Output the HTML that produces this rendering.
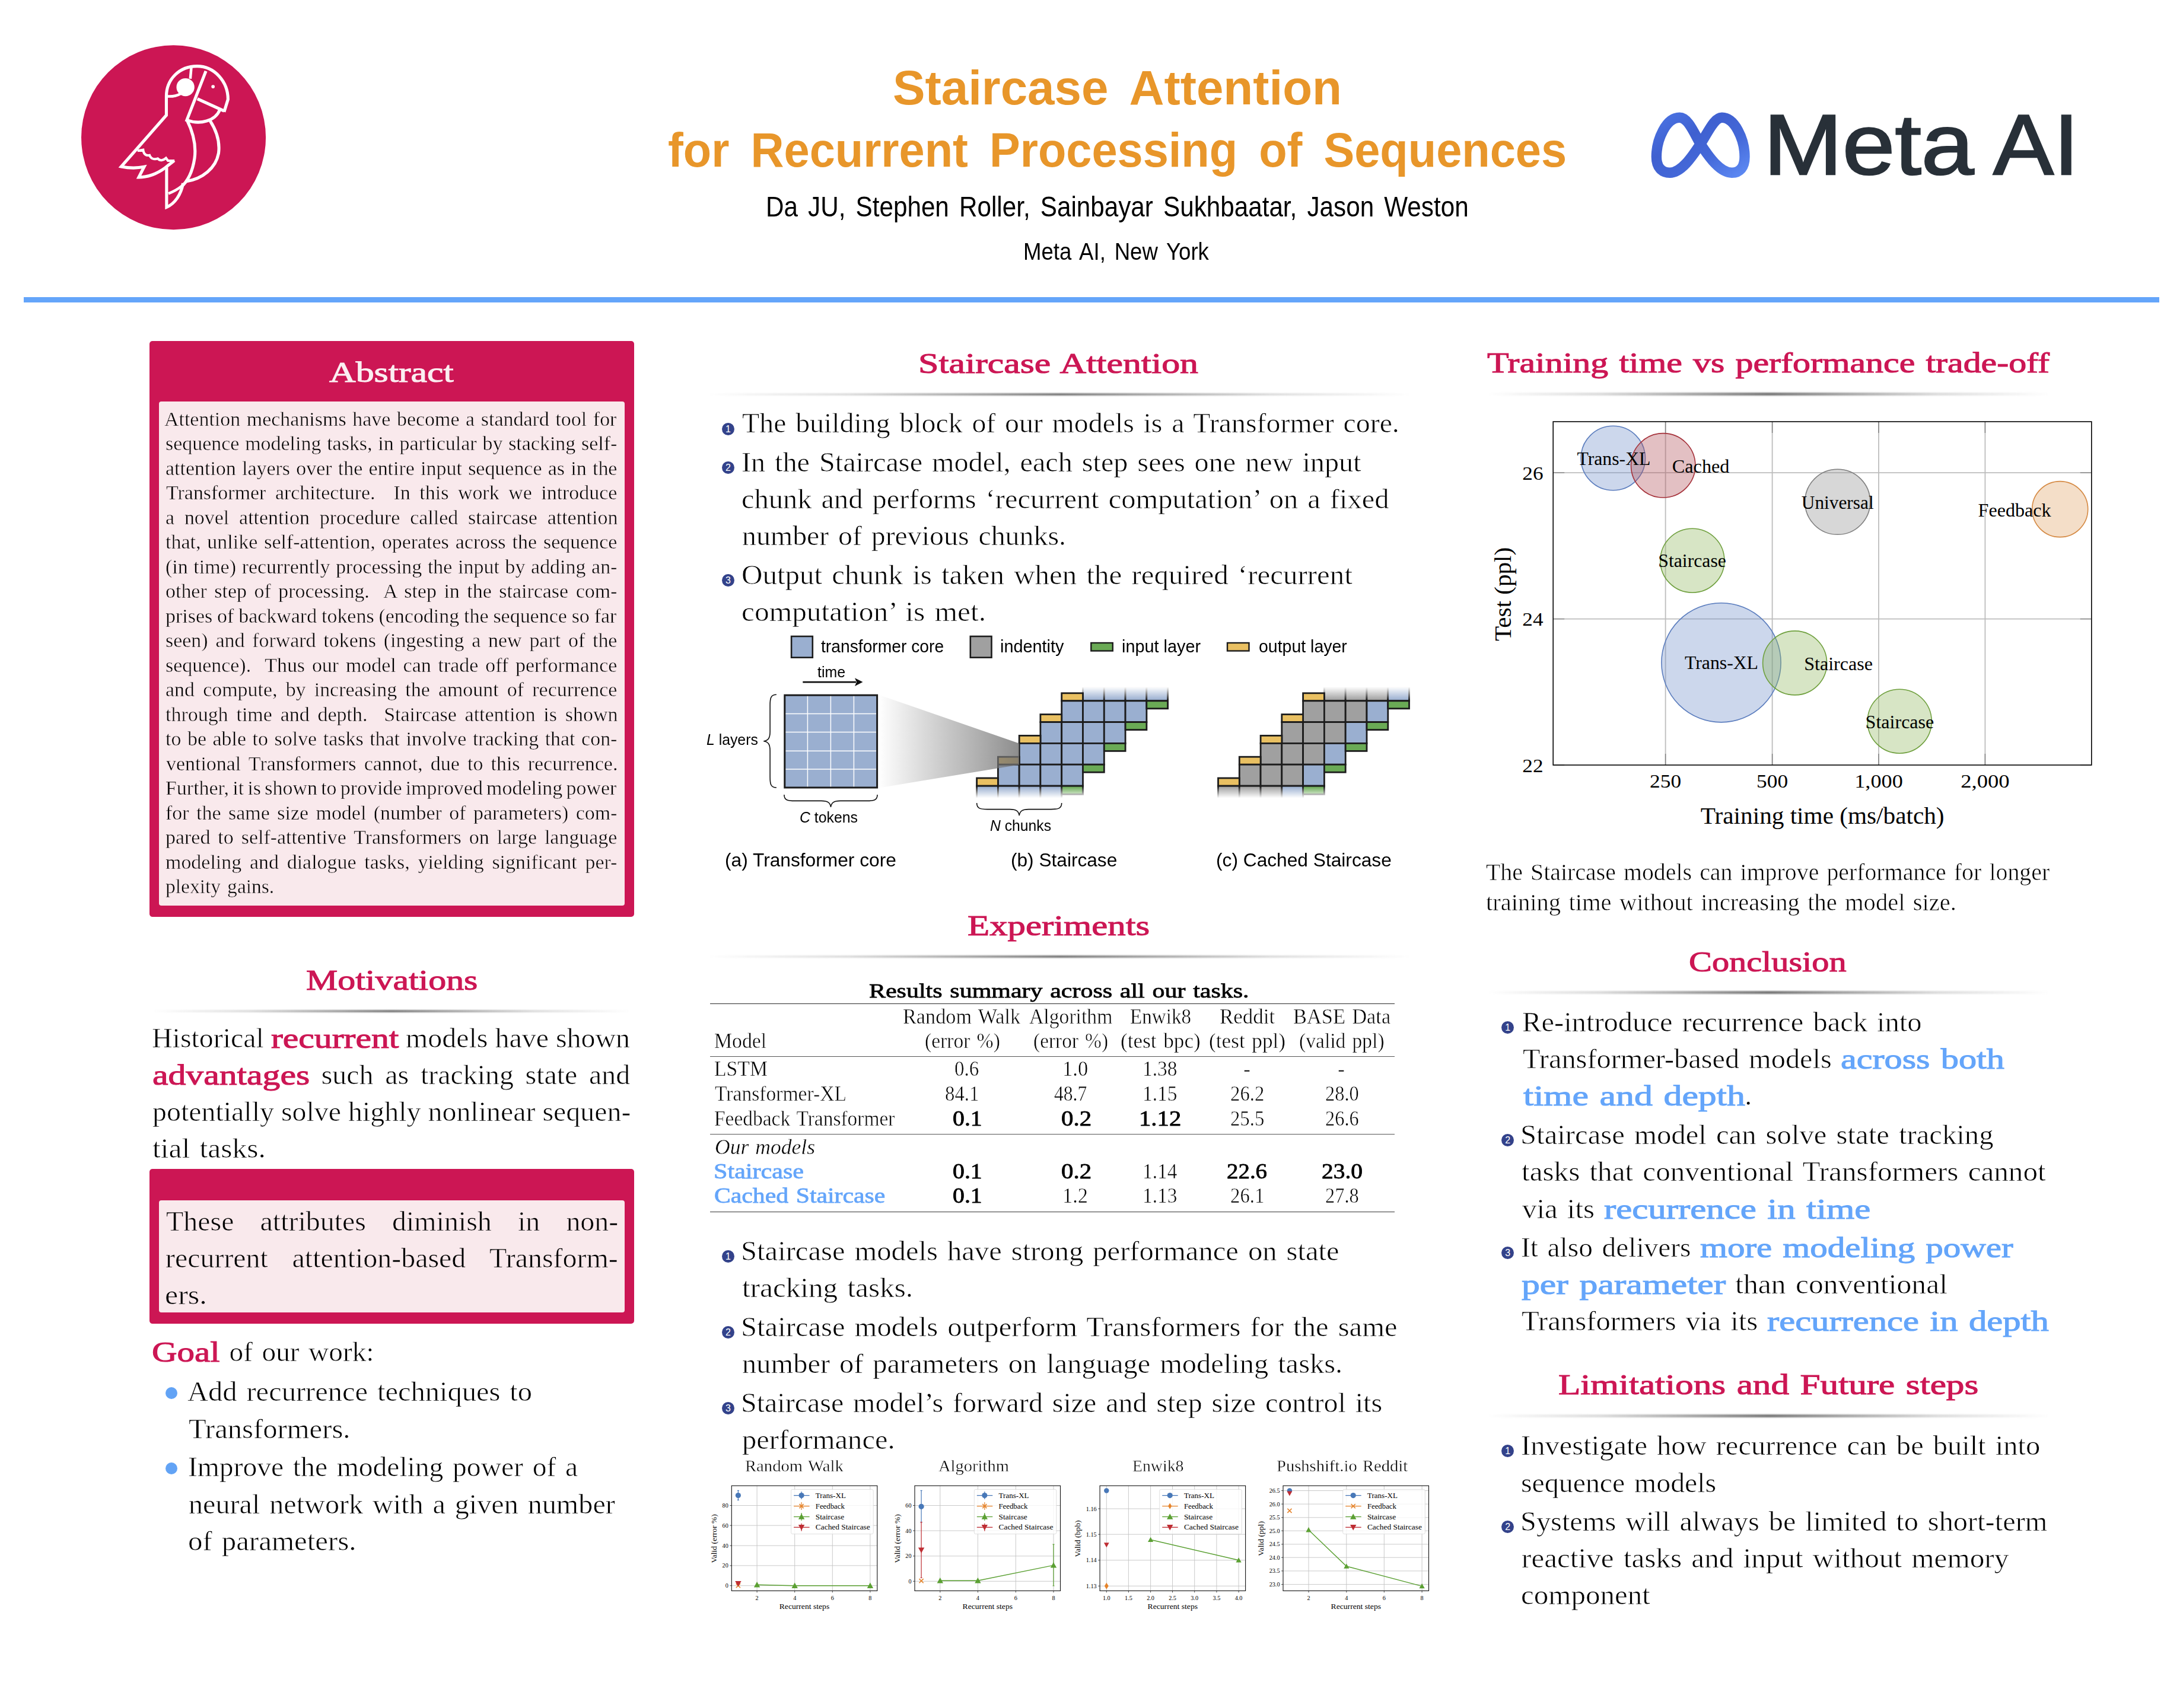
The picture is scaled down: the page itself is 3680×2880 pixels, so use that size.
<!DOCTYPE html>
<html lang="en"><head><meta charset="utf-8"><title>Staircase Attention for Recurrent Processing of Sequences</title>
<style>
html,body{margin:0;padding:0;background:#fff}
body{width:3680px;height:2880px;position:relative;overflow:hidden;font-family:"Liberation Serif",serif;color:#000}
.t{position:absolute;white-space:pre;line-height:1;transform-origin:0 0;margin:0;padding:0}
.sr{font-family:"Liberation Serif",serif;font-weight:400;-webkit-text-stroke:.015em #fff}
.sb{font-family:"Liberation Serif",serif;font-weight:400;-webkit-text-stroke:.022em currentColor}
.si{font-family:"Liberation Serif",serif;font-style:italic;-webkit-text-stroke:.012em #fff}
.pk{-webkit-text-stroke-color:#F9E9EC}
.ss{font-family:"Liberation Sans",sans-serif;font-weight:400}
.ssb{font-family:"Liberation Sans",sans-serif;font-weight:700}
.cs{font-family:"Liberation Sans",sans-serif;font-weight:400}
.cr{color:#CC1654}
.lb{color:#64A5FA}
.or{color:#E8962A}
.wh{color:#FBEEF1}
.meta{color:#283038;-webkit-text-stroke:2.6px #283038}
b{font-weight:400}
.abs{position:absolute}
.box{position:absolute;background:#CC1654;border-radius:5px}
.inner{position:absolute;background:#F9E9EC;border-radius:4px}
.hr{position:absolute;height:4.5px;filter:blur(.9px);background:linear-gradient(to right,rgba(100,100,100,0) 0%,rgba(100,100,100,.22) 20%,rgba(85,85,85,.8) 50%,rgba(100,100,100,.22) 80%,rgba(100,100,100,0) 100%)}
.num{position:absolute;width:21px;height:21px;border-radius:50%;background:#33428A;color:#fff;font-family:"Liberation Sans",sans-serif;font-size:16px;line-height:21px;text-align:center}
.dot{position:absolute;width:20px;height:20px;border-radius:50%;background:#62A3F5}
.rule{position:absolute;background:#222;height:1.6px}
svg{position:absolute;overflow:visible}
svg text{font-family:"Liberation Serif",serif}
</style></head>
<body>
<div class="abs" style="left:40px;top:500.8px;width:3600px;height:9.2px;background:#64A5FA"></div>
<div class="box" style="left:252px;top:575px;width:817px;height:970.5px"></div>
<div class="inner" style="left:267.5px;top:677px;width:785.5px;height:850px"></div>
<div class="box" style="left:252px;top:1970.5px;width:817px;height:261.3px"></div>
<div class="inner" style="left:267.5px;top:2024px;width:785.5px;height:189.1px"></div>
<div class="hr" style="left:258.0px;top:1702.5px;width:804.0px"></div>
<div class="hr" style="left:1194.6px;top:662.5px;width:1183.4px"></div>
<div class="hr" style="left:1194.6px;top:1610.6px;width:1183.4px"></div>
<div class="hr" style="left:2507.5px;top:662.0px;width:947.5px"></div>
<div class="hr" style="left:2507.5px;top:1671.1px;width:947.5px"></div>
<div class="hr" style="left:2507.5px;top:2385.4px;width:947.5px"></div>
<div class="num" style="left:1216.9px;top:712.5px">1</div>
<div class="num" style="left:1216.9px;top:778.2px">2</div>
<div class="num" style="left:1216.9px;top:968.4px">3</div>
<div class="num" style="left:1216.9px;top:2107.9px">1</div>
<div class="num" style="left:1216.9px;top:2236.1px">2</div>
<div class="num" style="left:1216.9px;top:2364.2px">3</div>
<div class="num" style="left:2531.3px;top:1721.9px">1</div>
<div class="num" style="left:2531.3px;top:1912.1px">2</div>
<div class="num" style="left:2531.3px;top:2102.2px">3</div>
<div class="num" style="left:2531.3px;top:2436.4px">1</div>
<div class="num" style="left:2531.3px;top:2564.2px">2</div>
<div class="dot" style="left:279.3px;top:2338.5px"></div>
<div class="dot" style="left:279.3px;top:2466.2px"></div>
<div class="rule" style="left:1197.1px;top:1691.8px;width:1153.7px;height:1.3px;background:#2a2a2a"></div>
<div class="rule" style="left:1197.1px;top:1781.4px;width:1153.7px;height:1.0px;background:#555"></div>
<div class="rule" style="left:1197.1px;top:1912.2px;width:1153.7px;height:1.0px;background:#555"></div>
<div class="rule" style="left:1197.1px;top:2043.1px;width:1153.7px;height:1.2px;background:#333"></div>
<svg style="left:120px;top:60px" width="350" height="350" viewBox="0 0 1708 1708"><circle cx="842" cy="838" r="759" fill="#CC1654"/><g fill="none" stroke="#fff" stroke-width="25" stroke-linejoin="miter" stroke-linecap="butt"><path d="M1258 628 L1290 525 C1290 380 1180 252 1035 252 C890 252 783 360 783 500 L783 655 L412 1078 C480 1092 540 1092 600 1080 L556 1166 C650 1166 740 1120 800 1066 L848 1028"/><path d="M545 948 L592 940 C596 975 615 990 645 985 C655 1012 680 1022 712 1012 C730 1032 756 1030 780 1008 L796 1030 L850 1030" stroke-width="20"/><path d="M785 1085 L785 1412 C850 1385 905 1310 920 1215"/><path d="M800 1300 C840 1285 880 1262 908 1240" stroke-width="22"/><path d="M952 693 C1000 790 1030 900 1015 1010 C1000 1110 960 1200 900 1250"/><path d="M1142 700 C1200 790 1225 880 1212 970 C1190 1090 1080 1180 945 1200"/><path d="M1108 292 L951 696 C1060 735 1185 705 1224 608"/><path d="M1038 520 L1258 620"/><path d="M988 264 L980 355" stroke-width="22"/><path d="M790 500 C830 503 870 495 900 478" stroke-width="22"/></g><circle cx="940" cy="425" r="74" fill="#fff"/><circle cx="1167" cy="420" r="14" fill="#fff"/></svg>
<svg style="left:2760px;top:160px" width="760" height="170" viewBox="0 0 2183 488.3"><defs><linearGradient id="mg" x1="0" y1="0" x2="1" y2="1"><stop offset="0" stop-color="#4A72E2"/><stop offset="0.35" stop-color="#3F60D0"/><stop offset="0.65" stop-color="#4468D8"/><stop offset="1" stop-color="#5C88F2"/></linearGradient></defs><path fill="none" stroke="url(#mg)" stroke-width="50" stroke-linejoin="round" d="M306 238 C272 178 245 110 205 110 C140 110 93 215 93 300 C93 350 118 377 158 377 C212 377 262 305 306 238 C345 178 372 110 410 110 C472 110 520 215 520 300 C520 350 497 377 458 377 C402 377 350 305 306 238 Z"/></svg>
<svg style="left:0;top:0" width="3680" height="2880" viewBox="0 0 3680 2880">
<defs><linearGradient id="fadeT" x1="0" y1="0" x2="0" y2="1"><stop offset="0" stop-color="#fff" stop-opacity="1"/><stop offset="0.15" stop-color="#fff" stop-opacity="1"/><stop offset="1" stop-color="#fff" stop-opacity="0"/></linearGradient><linearGradient id="fadeB" x1="0" y1="0" x2="0" y2="1"><stop offset="0" stop-color="#fff" stop-opacity="0"/><stop offset="0.8" stop-color="#fff" stop-opacity="1"/><stop offset="1" stop-color="#fff" stop-opacity="1"/></linearGradient><linearGradient id="beam" x1="0" y1="0" x2="1" y2="0"><stop offset="0" stop-color="#808080" stop-opacity="0"/><stop offset="0.5" stop-color="#808080" stop-opacity="0.45"/><stop offset="1" stop-color="#707070" stop-opacity="0.8"/></linearGradient></defs><rect x="1334.1" y="1073.0" width="35.7" height="35.7" fill="#9AAFD0" stroke="#1C1C1C" stroke-width="2.6" /><rect x="1635.8" y="1073.0" width="35.7" height="35.7" fill="#A0A0A0" stroke="#1C1C1C" stroke-width="2.6" /><rect x="1839.3" y="1084.0" width="36.5" height="13.5" fill="#6AAA55" stroke="#1C1C1C" stroke-width="2.4" /><rect x="2069.0" y="1084.0" width="36.5" height="13.5" fill="#E9C062" stroke="#1C1C1C" stroke-width="2.4" /><path d="M1353.3 1150.1 L1443 1150.1" stroke="#111" stroke-width="2.6" fill="none"/><path d="M1454.5 1150.1 L1441 1143.3 L1444 1150.1 L1441 1156.9 Z" fill="#111"/><rect x="1322.8" y="1172.2" width="155.8" height="155.8" fill="#9AAFD0"/><path d="M1361.4 1172 L1361.4 1328" stroke="#fff" stroke-width="1.5"/><path d="M1400.4 1172 L1400.4 1328" stroke="#fff" stroke-width="1.5"/><path d="M1439.4 1172 L1439.4 1328" stroke="#fff" stroke-width="1.5"/><path d="M1322 1203.4 L1479 1203.4" stroke="#fff" stroke-width="1.5"/><path d="M1322 1234.6 L1479 1234.6" stroke="#fff" stroke-width="1.5"/><path d="M1322 1266.2 L1479 1266.2" stroke="#fff" stroke-width="1.5"/><path d="M1322 1297.0 L1479 1297.0" stroke="#fff" stroke-width="1.5"/><rect x="1322.8" y="1172.2" width="155.8" height="155.8" fill="none" stroke="#1C1C1C" stroke-width="3"/><path fill="none" stroke="#111" stroke-width="1.6" d="M1308.9 1171.3 C1299.2 1171.3 1298.1 1177.3 1298.1 1189.3 L1298.1 1233.7 C1298.1 1244.7 1294.9 1248.7 1287.3 1249.7 C1294.9 1250.7 1298.1 1254.7 1298.1 1265.7 L1298.1 1310.0 C1298.1 1322.0 1299.2 1328.0 1308.9 1328.0"/><path fill="none" stroke="#111" stroke-width="1.6" d="M1321.9 1339.9 C1321.9 1349.4 1327.9 1350.4 1339.9 1350.4 L1384.5 1350.4 C1395.5 1350.4 1399.5 1353.6 1400.5 1360.9 C1401.5 1353.6 1405.5 1350.4 1416.5 1350.4 L1461.0 1350.4 C1473.0 1350.4 1479.0 1349.4 1479.0 1339.9"/><path fill="none" stroke="#111" stroke-width="1.6" d="M1646.6 1354.1 C1646.6 1363.5 1652.6 1364.6 1664.6 1364.6 L1702.2 1364.6 C1713.2 1364.6 1717.2 1367.8 1718.2 1375.1 C1719.2 1367.8 1723.2 1364.6 1734.2 1364.6 L1771.7 1364.6 C1783.7 1364.6 1789.7 1363.5 1789.7 1354.1"/><rect x="1825.5" y="1157.8" width="35.8" height="24.0" fill="#9AAFD0" stroke="#1C1C1C" stroke-width="2.8" /><rect x="1861.3" y="1157.8" width="35.8" height="24.0" fill="#9AAFD0" stroke="#1C1C1C" stroke-width="2.8" /><rect x="1897.1" y="1157.8" width="35.8" height="24.0" fill="#9AAFD0" stroke="#1C1C1C" stroke-width="2.8" /><rect x="1932.8" y="1157.8" width="35.8" height="24.0" fill="#9AAFD0" stroke="#1C1C1C" stroke-width="2.8" /><rect x="1646.6" y="1325.0" width="35.8" height="22.0" fill="#9AAFD0" stroke="#1C1C1C" stroke-width="2.8" /><rect x="1682.4" y="1325.0" width="35.8" height="22.0" fill="#9AAFD0" stroke="#1C1C1C" stroke-width="2.8" /><rect x="1718.2" y="1325.0" width="35.8" height="22.0" fill="#9AAFD0" stroke="#1C1C1C" stroke-width="2.8" /><rect x="1753.9" y="1325.0" width="35.8" height="22.0" fill="#9AAFD0" stroke="#1C1C1C" stroke-width="2.8" /><rect x="1789.7" y="1325.0" width="35.8" height="14.5" fill="#6AAA55" stroke="#1C1C1C" stroke-width="2.8" /><rect x="1822.5" y="1154.3" width="149.1" height="26" fill="url(#fadeT)"/><rect x="1643.6" y="1326.5" width="184.9" height="24" fill="url(#fadeB)"/><rect x="1789.7" y="1168.8" width="35.8" height="13.0" fill="#E9C062" stroke="#1C1C1C" stroke-width="2.8" /><rect x="1789.7" y="1181.8" width="35.8" height="35.8" fill="#9AAFD0" stroke="#1C1C1C" stroke-width="2.8" /><rect x="1825.5" y="1181.8" width="35.8" height="35.8" fill="#9AAFD0" stroke="#1C1C1C" stroke-width="2.8" /><rect x="1861.3" y="1181.8" width="35.8" height="35.8" fill="#9AAFD0" stroke="#1C1C1C" stroke-width="2.8" /><rect x="1897.1" y="1181.8" width="35.8" height="35.8" fill="#9AAFD0" stroke="#1C1C1C" stroke-width="2.8" /><rect x="1932.8" y="1181.8" width="35.8" height="13.0" fill="#6AAA55" stroke="#1C1C1C" stroke-width="2.8" /><rect x="1753.9" y="1204.6" width="35.8" height="13.0" fill="#E9C062" stroke="#1C1C1C" stroke-width="2.8" /><rect x="1753.9" y="1217.6" width="35.8" height="35.8" fill="#9AAFD0" stroke="#1C1C1C" stroke-width="2.8" /><rect x="1789.7" y="1217.6" width="35.8" height="35.8" fill="#9AAFD0" stroke="#1C1C1C" stroke-width="2.8" /><rect x="1825.5" y="1217.6" width="35.8" height="35.8" fill="#9AAFD0" stroke="#1C1C1C" stroke-width="2.8" /><rect x="1861.3" y="1217.6" width="35.8" height="35.8" fill="#9AAFD0" stroke="#1C1C1C" stroke-width="2.8" /><rect x="1897.1" y="1217.6" width="35.8" height="13.0" fill="#6AAA55" stroke="#1C1C1C" stroke-width="2.8" /><rect x="1718.2" y="1240.4" width="35.8" height="13.0" fill="#E9C062" stroke="#1C1C1C" stroke-width="2.8" /><rect x="1718.2" y="1253.4" width="35.8" height="35.8" fill="#9AAFD0" stroke="#1C1C1C" stroke-width="2.8" /><rect x="1753.9" y="1253.4" width="35.8" height="35.8" fill="#9AAFD0" stroke="#1C1C1C" stroke-width="2.8" /><rect x="1789.7" y="1253.4" width="35.8" height="35.8" fill="#9AAFD0" stroke="#1C1C1C" stroke-width="2.8" /><rect x="1825.5" y="1253.4" width="35.8" height="35.8" fill="#9AAFD0" stroke="#1C1C1C" stroke-width="2.8" /><rect x="1861.3" y="1253.4" width="35.8" height="13.0" fill="#6AAA55" stroke="#1C1C1C" stroke-width="2.8" /><rect x="1682.4" y="1276.2" width="35.8" height="13.0" fill="#E9C062" stroke="#1C1C1C" stroke-width="2.8" /><rect x="1682.4" y="1289.2" width="35.8" height="35.8" fill="#9AAFD0" stroke="#1C1C1C" stroke-width="2.8" /><rect x="1718.2" y="1289.2" width="35.8" height="35.8" fill="#9AAFD0" stroke="#1C1C1C" stroke-width="2.8" /><rect x="1753.9" y="1289.2" width="35.8" height="35.8" fill="#9AAFD0" stroke="#1C1C1C" stroke-width="2.8" /><rect x="1789.7" y="1289.2" width="35.8" height="35.8" fill="#9AAFD0" stroke="#1C1C1C" stroke-width="2.8" /><rect x="1825.5" y="1289.2" width="35.8" height="13.0" fill="#6AAA55" stroke="#1C1C1C" stroke-width="2.8" /><rect x="1646.6" y="1312.0" width="35.8" height="13.0" fill="#E9C062" stroke="#1C1C1C" stroke-width="2.8" /><rect x="2232.4" y="1157.8" width="35.8" height="24.0" fill="#A0A0A0" stroke="#1C1C1C" stroke-width="2.8" /><rect x="2268.2" y="1157.8" width="35.8" height="24.0" fill="#A0A0A0" stroke="#1C1C1C" stroke-width="2.8" /><rect x="2304.0" y="1157.8" width="35.8" height="24.0" fill="#A0A0A0" stroke="#1C1C1C" stroke-width="2.8" /><rect x="2339.7" y="1157.8" width="35.8" height="24.0" fill="#9AAFD0" stroke="#1C1C1C" stroke-width="2.8" /><rect x="2053.5" y="1325.0" width="35.8" height="22.0" fill="#A0A0A0" stroke="#1C1C1C" stroke-width="2.8" /><rect x="2089.3" y="1325.0" width="35.8" height="22.0" fill="#A0A0A0" stroke="#1C1C1C" stroke-width="2.8" /><rect x="2125.1" y="1325.0" width="35.8" height="22.0" fill="#A0A0A0" stroke="#1C1C1C" stroke-width="2.8" /><rect x="2160.8" y="1325.0" width="35.8" height="22.0" fill="#9AAFD0" stroke="#1C1C1C" stroke-width="2.8" /><rect x="2196.6" y="1325.0" width="35.8" height="14.5" fill="#6AAA55" stroke="#1C1C1C" stroke-width="2.8" /><rect x="2229.4" y="1154.3" width="149.1" height="26" fill="url(#fadeT)"/><rect x="2050.5" y="1326.5" width="184.9" height="24" fill="url(#fadeB)"/><rect x="2196.6" y="1168.8" width="35.8" height="13.0" fill="#E9C062" stroke="#1C1C1C" stroke-width="2.8" /><rect x="2196.6" y="1181.8" width="35.8" height="35.8" fill="#A0A0A0" stroke="#1C1C1C" stroke-width="2.8" /><rect x="2232.4" y="1181.8" width="35.8" height="35.8" fill="#A0A0A0" stroke="#1C1C1C" stroke-width="2.8" /><rect x="2268.2" y="1181.8" width="35.8" height="35.8" fill="#A0A0A0" stroke="#1C1C1C" stroke-width="2.8" /><rect x="2304.0" y="1181.8" width="35.8" height="35.8" fill="#9AAFD0" stroke="#1C1C1C" stroke-width="2.8" /><rect x="2339.7" y="1181.8" width="35.8" height="13.0" fill="#6AAA55" stroke="#1C1C1C" stroke-width="2.8" /><rect x="2160.8" y="1204.6" width="35.8" height="13.0" fill="#E9C062" stroke="#1C1C1C" stroke-width="2.8" /><rect x="2160.8" y="1217.6" width="35.8" height="35.8" fill="#A0A0A0" stroke="#1C1C1C" stroke-width="2.8" /><rect x="2196.6" y="1217.6" width="35.8" height="35.8" fill="#A0A0A0" stroke="#1C1C1C" stroke-width="2.8" /><rect x="2232.4" y="1217.6" width="35.8" height="35.8" fill="#A0A0A0" stroke="#1C1C1C" stroke-width="2.8" /><rect x="2268.2" y="1217.6" width="35.8" height="35.8" fill="#9AAFD0" stroke="#1C1C1C" stroke-width="2.8" /><rect x="2304.0" y="1217.6" width="35.8" height="13.0" fill="#6AAA55" stroke="#1C1C1C" stroke-width="2.8" /><rect x="2125.1" y="1240.4" width="35.8" height="13.0" fill="#E9C062" stroke="#1C1C1C" stroke-width="2.8" /><rect x="2125.1" y="1253.4" width="35.8" height="35.8" fill="#A0A0A0" stroke="#1C1C1C" stroke-width="2.8" /><rect x="2160.8" y="1253.4" width="35.8" height="35.8" fill="#A0A0A0" stroke="#1C1C1C" stroke-width="2.8" /><rect x="2196.6" y="1253.4" width="35.8" height="35.8" fill="#A0A0A0" stroke="#1C1C1C" stroke-width="2.8" /><rect x="2232.4" y="1253.4" width="35.8" height="35.8" fill="#9AAFD0" stroke="#1C1C1C" stroke-width="2.8" /><rect x="2268.2" y="1253.4" width="35.8" height="13.0" fill="#6AAA55" stroke="#1C1C1C" stroke-width="2.8" /><rect x="2089.3" y="1276.2" width="35.8" height="13.0" fill="#E9C062" stroke="#1C1C1C" stroke-width="2.8" /><rect x="2089.3" y="1289.2" width="35.8" height="35.8" fill="#A0A0A0" stroke="#1C1C1C" stroke-width="2.8" /><rect x="2125.1" y="1289.2" width="35.8" height="35.8" fill="#A0A0A0" stroke="#1C1C1C" stroke-width="2.8" /><rect x="2160.8" y="1289.2" width="35.8" height="35.8" fill="#A0A0A0" stroke="#1C1C1C" stroke-width="2.8" /><rect x="2196.6" y="1289.2" width="35.8" height="35.8" fill="#9AAFD0" stroke="#1C1C1C" stroke-width="2.8" /><rect x="2232.4" y="1289.2" width="35.8" height="13.0" fill="#6AAA55" stroke="#1C1C1C" stroke-width="2.8" /><rect x="2053.5" y="1312.0" width="35.8" height="13.0" fill="#E9C062" stroke="#1C1C1C" stroke-width="2.8" /><path d="M1480.3 1171.2 L1718 1253.5 L1718 1289.4 L1480.3 1328.8 Z" fill="url(#beam)"/>
<path d="M2807.6 711.0 L2807.6 1290.0" stroke="#BDBDBD" stroke-width="1.8"/><path d="M2987.6 711.0 L2987.6 1290.0" stroke="#BDBDBD" stroke-width="1.8"/><path d="M3167.0 711.0 L3167.0 1290.0" stroke="#BDBDBD" stroke-width="1.8"/><path d="M3346.4 711.0 L3346.4 1290.0" stroke="#BDBDBD" stroke-width="1.8"/><path d="M2618.2 797.1 L3525.8 797.1" stroke="#BDBDBD" stroke-width="1.8"/><path d="M2618.2 1043.6 L3525.8 1043.6" stroke="#BDBDBD" stroke-width="1.8"/><path d="M2807.6 1290.0 l0 -19 M2807.6 711.0 l0 19" stroke="#7f7f7f" stroke-width="1.4"/><path d="M2987.6 1290.0 l0 -19 M2987.6 711.0 l0 19" stroke="#7f7f7f" stroke-width="1.4"/><path d="M3167.0 1290.0 l0 -19 M3167.0 711.0 l0 19" stroke="#7f7f7f" stroke-width="1.4"/><path d="M3346.4 1290.0 l0 -19 M3346.4 711.0 l0 19" stroke="#7f7f7f" stroke-width="1.4"/><path d="M2618.2 797.1 l19 0 M3525.8 797.1 l-19 0" stroke="#7f7f7f" stroke-width="1.4"/><path d="M2618.2 1043.6 l19 0 M3525.8 1043.6 l-19 0" stroke="#7f7f7f" stroke-width="1.4"/><path d="M2618.2 1290.0 l19 0 M3525.8 1290.0 l-19 0" stroke="#7f7f7f" stroke-width="1.4"/><circle cx="2719.3" cy="772.5" r="54.2" fill="#6C8CC8" fill-opacity="0.35" stroke="#5B7DBE" stroke-width="1.6"/><circle cx="2803.7" cy="784.8" r="54.2" fill="#B04A52" fill-opacity="0.35" stroke="#A5313A" stroke-width="1.6"/><circle cx="3097.7" cy="846.3" r="55.0" fill="#8C8C8C" fill-opacity="0.35" stroke="#7F7F7F" stroke-width="1.6"/><circle cx="3472.7" cy="858.6" r="47.0" fill="#E0A060" fill-opacity="0.35" stroke="#D58A44" stroke-width="1.6"/><circle cx="2852.9" cy="945.2" r="54.0" fill="#8DB55A" fill-opacity="0.35" stroke="#6FA03E" stroke-width="1.6"/><circle cx="2901.5" cy="1117.3" r="100.6" fill="#6C8CC8" fill-opacity="0.35" stroke="#5B7DBE" stroke-width="1.6"/><circle cx="3025.6" cy="1117.9" r="54.0" fill="#8DB55A" fill-opacity="0.35" stroke="#6FA03E" stroke-width="1.6"/><circle cx="3202.2" cy="1216.2" r="54.0" fill="#8DB55A" fill-opacity="0.35" stroke="#6FA03E" stroke-width="1.6"/><rect x="2618.2" y="711.0" width="907.6" height="579.0" fill="none" stroke="#000" stroke-width="1.6"/>
<text x="2601.5" y="808.6" font-size="32" text-anchor="end" textLength="35.2" lengthAdjust="spacingAndGlyphs">26</text><text x="2601.5" y="1055.1" font-size="32" text-anchor="end" textLength="35.2" lengthAdjust="spacingAndGlyphs">24</text><text x="2601.5" y="1301.5" font-size="32" text-anchor="end" textLength="35.2" lengthAdjust="spacingAndGlyphs">22</text><text x="2807.6" y="1327.8" font-size="32" text-anchor="middle" textLength="53" lengthAdjust="spacingAndGlyphs">250</text><text x="2987.6" y="1327.8" font-size="32" text-anchor="middle" textLength="53" lengthAdjust="spacingAndGlyphs">500</text><text x="3167.0" y="1327.8" font-size="32" text-anchor="middle" textLength="81.5" lengthAdjust="spacingAndGlyphs">1,000</text><text x="3346.4" y="1327.8" font-size="32" text-anchor="middle" textLength="82.5" lengthAdjust="spacingAndGlyphs">2,000</text><text x="3072.2" y="1389.2" font-size="39.5" text-anchor="middle" textLength="410.7" lengthAdjust="spacingAndGlyphs">Training time (ms/batch)</text><text transform="translate(2546.5 1001.9) rotate(-90)" font-size="39.5" text-anchor="middle" textLength="158" lengthAdjust="spacingAndGlyphs">Test (ppl)</text><text x="2658.4" y="783.5" font-size="31.5" textLength="124.1" lengthAdjust="spacingAndGlyphs">Trans-XL</text><text x="2818.8" y="796.9" font-size="31.5" textLength="96.7" lengthAdjust="spacingAndGlyphs">Cached</text><text x="3036.8" y="858.4" font-size="31.5" textLength="121.8" lengthAdjust="spacingAndGlyphs">Universal</text><text x="3334.6" y="871.2" font-size="31.5" textLength="123.0" lengthAdjust="spacingAndGlyphs">Feedback</text><text x="2795.3" y="956.2" font-size="31.5" textLength="114.6" lengthAdjust="spacingAndGlyphs">Staircase</text><text x="2840.0" y="1128.3" font-size="31.5" textLength="124.0" lengthAdjust="spacingAndGlyphs">Trans-XL</text><text x="3041.2" y="1129.5" font-size="31.5" textLength="115.7" lengthAdjust="spacingAndGlyphs">Staircase</text><text x="3144.6" y="1227.8" font-size="31.5" textLength="115.7" lengthAdjust="spacingAndGlyphs">Staircase</text>
<rect x="1233.3" y="2505.2" width="245.5" height="177.2" fill="#fff"/><path d="M1276.1 2505.2 L1276.1 2682.4" stroke="#C4C4C4" stroke-width="0.9"/><path d="M1276.1 2682.4 l0 3" stroke="#222" stroke-width="0.8"/><text x="1276.1" y="2698.2" font-size="10.2" text-anchor="middle" >2</text><path d="M1339.7 2505.2 L1339.7 2682.4" stroke="#C4C4C4" stroke-width="0.9"/><path d="M1339.7 2682.4 l0 3" stroke="#222" stroke-width="0.8"/><text x="1339.7" y="2698.2" font-size="10.2" text-anchor="middle" >4</text><path d="M1403.3 2505.2 L1403.3 2682.4" stroke="#C4C4C4" stroke-width="0.9"/><path d="M1403.3 2682.4 l0 3" stroke="#222" stroke-width="0.8"/><text x="1403.3" y="2698.2" font-size="10.2" text-anchor="middle" >6</text><path d="M1466.9 2505.2 L1466.9 2682.4" stroke="#C4C4C4" stroke-width="0.9"/><path d="M1466.9 2682.4 l0 3" stroke="#222" stroke-width="0.8"/><text x="1466.9" y="2698.2" font-size="10.2" text-anchor="middle" >8</text><path d="M1233.3 2673.7 L1478.8 2673.7" stroke="#C4C4C4" stroke-width="0.9"/><path d="M1233.3 2673.7 l-3 0" stroke="#222" stroke-width="0.8"/><text x="1227.8" y="2677.2" font-size="10.2" text-anchor="end" >0</text><path d="M1233.3 2639.9 L1478.8 2639.9" stroke="#C4C4C4" stroke-width="0.9"/><path d="M1233.3 2639.9 l-3 0" stroke="#222" stroke-width="0.8"/><text x="1227.8" y="2643.4" font-size="10.2" text-anchor="end" >20</text><path d="M1233.3 2606.2 L1478.8 2606.2" stroke="#C4C4C4" stroke-width="0.9"/><path d="M1233.3 2606.2 l-3 0" stroke="#222" stroke-width="0.8"/><text x="1227.8" y="2609.7" font-size="10.2" text-anchor="end" >40</text><path d="M1233.3 2572.2 L1478.8 2572.2" stroke="#C4C4C4" stroke-width="0.9"/><path d="M1233.3 2572.2 l-3 0" stroke="#222" stroke-width="0.8"/><text x="1227.8" y="2575.7" font-size="10.2" text-anchor="end" >60</text><path d="M1233.3 2538.5 L1478.8 2538.5" stroke="#C4C4C4" stroke-width="0.9"/><path d="M1233.3 2538.5 l-3 0" stroke="#222" stroke-width="0.8"/><text x="1227.8" y="2542.0" font-size="10.2" text-anchor="end" >80</text><path d="M1276.1 2672.2 L1339.7 2673.7 L1466.9 2673.7" stroke="#5BA033" stroke-width="1.4" fill="none"/><path d="M1276.1 2667.0 L1281.3 2676.4 L1270.9 2676.4 Z" fill="#5BA033"/><path d="M1339.7 2668.5 L1344.9 2677.9 L1334.5 2677.9 Z" fill="#5BA033"/><path d="M1466.9 2668.5 L1472.1 2677.9 L1461.7 2677.9 Z" fill="#5BA033"/><path d="M1244.4 2513.3 L1244.4 2529.4 M1242.9 2513.3 l3 0 M1242.9 2529.4 l3 0" stroke="#4878B8" stroke-width="1.2" fill="none"/><circle cx="1244.4" cy="2521.5" r="4.6" fill="#4878B8"/><path d="M1240.8 2670.1 L1248.0 2677.3 M1240.8 2677.3 L1248.0 2670.1" stroke="#E5832A" stroke-width="1.6" fill="none"/><path d="M1244.4 2675.3 L1249.6 2665.9 L1239.2 2665.9 Z" fill="#BE2D33"/><rect x="1233.3" y="2505.2" width="245.5" height="177.2" fill="none" stroke="#111" stroke-width="1.1"/><text x="1356.0" y="2712.8" font-size="12.4" text-anchor="middle" textLength="84.5" lengthAdjust="spacingAndGlyphs">Recurrent steps</text><text transform="translate(1207.8 2594.4) rotate(-90)" font-size="12.4" text-anchor="middle" textLength="82.4" lengthAdjust="spacingAndGlyphs">Valid (error %)</text><rect x="1333.6" y="2511.4" width="138.6" height="75.2" rx="2.5" fill="#fff" fill-opacity="0.8" stroke="#D8D8D8" stroke-width="0.8"/><path d="M1338.1 2521.6 L1364.6 2521.6" stroke="#4878B8" stroke-width="1.3"/><path d="M1351.1 2515.1 l0 13" stroke="#4878B8" stroke-width="1.2"/><circle cx="1351.1" cy="2521.6" r="4.6" fill="#4878B8"/><text x="1374.8" y="2525.7" font-size="12.4" text-anchor="start" textLength="51.1" lengthAdjust="spacingAndGlyphs">Trans-XL</text><path d="M1338.1 2539.6 L1364.6 2539.6" stroke="#E5832A" stroke-width="1.3"/><path d="M1351.1 2533.1 l0 13" stroke="#E5832A" stroke-width="1.2"/><path d="M1347.5 2536.0 L1354.7 2543.2 M1347.5 2543.2 L1354.7 2536.0" stroke="#E5832A" stroke-width="1.6" fill="none"/><text x="1374.8" y="2543.7" font-size="12.4" text-anchor="start" textLength="49" lengthAdjust="spacingAndGlyphs">Feedback</text><path d="M1338.1 2557.5 L1364.6 2557.5" stroke="#5BA033" stroke-width="1.3"/><path d="M1351.1 2551.0 l0 13" stroke="#5BA033" stroke-width="1.2"/><path d="M1351.1 2552.3 L1356.3 2561.7 L1345.9 2561.7 Z" fill="#5BA033"/><text x="1374.8" y="2561.6" font-size="12.4" text-anchor="start" textLength="48.3" lengthAdjust="spacingAndGlyphs">Staircase</text><path d="M1338.1 2575.3 L1364.6 2575.3" stroke="#BE2D33" stroke-width="1.3"/><path d="M1351.1 2568.8 l0 13" stroke="#BE2D33" stroke-width="1.2"/><path d="M1351.1 2580.5 L1356.3 2571.1 L1345.9 2571.1 Z" fill="#BE2D33"/><text x="1374.8" y="2579.4" font-size="12.4" text-anchor="start" textLength="92" lengthAdjust="spacingAndGlyphs">Cached Staircase</text><rect x="1542.0" y="2505.2" width="245.5" height="177.2" fill="#fff"/><path d="M1584.8 2505.2 L1584.8 2682.4" stroke="#C4C4C4" stroke-width="0.9"/><path d="M1584.8 2682.4 l0 3" stroke="#222" stroke-width="0.8"/><text x="1584.8" y="2698.2" font-size="10.2" text-anchor="middle" >2</text><path d="M1648.4 2505.2 L1648.4 2682.4" stroke="#C4C4C4" stroke-width="0.9"/><path d="M1648.4 2682.4 l0 3" stroke="#222" stroke-width="0.8"/><text x="1648.4" y="2698.2" font-size="10.2" text-anchor="middle" >4</text><path d="M1712.3 2505.2 L1712.3 2682.4" stroke="#C4C4C4" stroke-width="0.9"/><path d="M1712.3 2682.4 l0 3" stroke="#222" stroke-width="0.8"/><text x="1712.3" y="2698.2" font-size="10.2" text-anchor="middle" >6</text><path d="M1776.0 2505.2 L1776.0 2682.4" stroke="#C4C4C4" stroke-width="0.9"/><path d="M1776.0 2682.4 l0 3" stroke="#222" stroke-width="0.8"/><text x="1776.0" y="2698.2" font-size="10.2" text-anchor="middle" >8</text><path d="M1542.0 2666.3 L1787.5 2666.3" stroke="#C4C4C4" stroke-width="0.9"/><path d="M1542.0 2666.3 l-3 0" stroke="#222" stroke-width="0.8"/><text x="1536.5" y="2669.8" font-size="10.2" text-anchor="end" >0</text><path d="M1542.0 2623.8 L1787.5 2623.8" stroke="#C4C4C4" stroke-width="0.9"/><path d="M1542.0 2623.8 l-3 0" stroke="#222" stroke-width="0.8"/><text x="1536.5" y="2627.3" font-size="10.2" text-anchor="end" >20</text><path d="M1542.0 2581.0 L1787.5 2581.0" stroke="#C4C4C4" stroke-width="0.9"/><path d="M1542.0 2581.0 l-3 0" stroke="#222" stroke-width="0.8"/><text x="1536.5" y="2584.5" font-size="10.2" text-anchor="end" >40</text><path d="M1542.0 2538.5 L1787.5 2538.5" stroke="#C4C4C4" stroke-width="0.9"/><path d="M1542.0 2538.5 l-3 0" stroke="#222" stroke-width="0.8"/><text x="1536.5" y="2542.0" font-size="10.2" text-anchor="end" >60</text><path d="M1584.8 2665.2 L1648.4 2665.2 L1776 2639.4" stroke="#5BA033" stroke-width="1.4" fill="none"/><path d="M1776.0 2604.2 L1776.0 2674.0 M1774.5 2604.2 l3 0 M1774.5 2674.0 l3 0" stroke="#5BA033" stroke-width="1.2" fill="none"/><path d="M1584.8 2660.0 L1590.0 2669.4 L1579.6 2669.4 Z" fill="#5BA033"/><path d="M1648.4 2660.0 L1653.6 2669.4 L1643.2 2669.4 Z" fill="#5BA033"/><path d="M1776.0 2634.2 L1781.2 2643.6 L1770.8 2643.6 Z" fill="#5BA033"/><path d="M1553.1 2513.3 L1553.1 2566.6 M1551.6 2513.3 l3 0 M1551.6 2566.6 l3 0" stroke="#4878B8" stroke-width="1.2" fill="none"/><circle cx="1553.1" cy="2540.3" r="4.6" fill="#4878B8"/><path d="M1553.1 2566.6 L1553.1 2660.5 M1551.6 2566.6 l3 0 M1551.6 2660.5 l3 0" stroke="#BE2D33" stroke-width="1.2" fill="none"/><path d="M1553.1 2618.8 L1558.3 2609.4 L1547.9 2609.4 Z" fill="#BE2D33"/><path d="M1549.5 2662.1 L1556.7 2669.3 M1549.5 2669.3 L1556.7 2662.1" stroke="#E5832A" stroke-width="1.6" fill="none"/><rect x="1542.0" y="2505.2" width="245.5" height="177.2" fill="none" stroke="#111" stroke-width="1.1"/><text x="1664.8" y="2712.8" font-size="12.4" text-anchor="middle" textLength="84.5" lengthAdjust="spacingAndGlyphs">Recurrent steps</text><text transform="translate(1516.5 2594.4) rotate(-90)" font-size="12.4" text-anchor="middle" textLength="82.4" lengthAdjust="spacingAndGlyphs">Valid (error %)</text><rect x="1642.3" y="2511.4" width="138.6" height="75.2" rx="2.5" fill="#fff" fill-opacity="0.8" stroke="#D8D8D8" stroke-width="0.8"/><path d="M1646.8 2521.6 L1673.3 2521.6" stroke="#4878B8" stroke-width="1.3"/><path d="M1659.8 2515.1 l0 13" stroke="#4878B8" stroke-width="1.2"/><circle cx="1659.8" cy="2521.6" r="4.6" fill="#4878B8"/><text x="1683.5" y="2525.7" font-size="12.4" text-anchor="start" textLength="51.1" lengthAdjust="spacingAndGlyphs">Trans-XL</text><path d="M1646.8 2539.6 L1673.3 2539.6" stroke="#E5832A" stroke-width="1.3"/><path d="M1659.8 2533.1 l0 13" stroke="#E5832A" stroke-width="1.2"/><path d="M1656.2 2536.0 L1663.4 2543.2 M1656.2 2543.2 L1663.4 2536.0" stroke="#E5832A" stroke-width="1.6" fill="none"/><text x="1683.5" y="2543.7" font-size="12.4" text-anchor="start" textLength="49" lengthAdjust="spacingAndGlyphs">Feedback</text><path d="M1646.8 2557.5 L1673.3 2557.5" stroke="#5BA033" stroke-width="1.3"/><path d="M1659.8 2551.0 l0 13" stroke="#5BA033" stroke-width="1.2"/><path d="M1659.8 2552.3 L1665.0 2561.7 L1654.6 2561.7 Z" fill="#5BA033"/><text x="1683.5" y="2561.6" font-size="12.4" text-anchor="start" textLength="48.3" lengthAdjust="spacingAndGlyphs">Staircase</text><path d="M1646.8 2575.3 L1673.3 2575.3" stroke="#BE2D33" stroke-width="1.3"/><path d="M1659.8 2568.8 l0 13" stroke="#BE2D33" stroke-width="1.2"/><path d="M1659.8 2580.5 L1665.0 2571.1 L1654.6 2571.1 Z" fill="#BE2D33"/><text x="1683.5" y="2579.4" font-size="12.4" text-anchor="start" textLength="92" lengthAdjust="spacingAndGlyphs">Cached Staircase</text><rect x="1854.1" y="2505.2" width="245.5" height="177.2" fill="#fff"/><path d="M1865.3 2505.2 L1865.3 2682.4" stroke="#C4C4C4" stroke-width="0.9"/><path d="M1865.3 2682.4 l0 3" stroke="#222" stroke-width="0.8"/><text x="1865.3" y="2698.2" font-size="10.2" text-anchor="middle" >1.0</text><path d="M1902.4 2505.2 L1902.4 2682.4" stroke="#C4C4C4" stroke-width="0.9"/><path d="M1902.4 2682.4 l0 3" stroke="#222" stroke-width="0.8"/><text x="1902.4" y="2698.2" font-size="10.2" text-anchor="middle" >1.5</text><path d="M1939.6 2505.2 L1939.6 2682.4" stroke="#C4C4C4" stroke-width="0.9"/><path d="M1939.6 2682.4 l0 3" stroke="#222" stroke-width="0.8"/><text x="1939.6" y="2698.2" font-size="10.2" text-anchor="middle" >2.0</text><path d="M1976.5 2505.2 L1976.5 2682.4" stroke="#C4C4C4" stroke-width="0.9"/><path d="M1976.5 2682.4 l0 3" stroke="#222" stroke-width="0.8"/><text x="1976.5" y="2698.2" font-size="10.2" text-anchor="middle" >2.5</text><path d="M2013.7 2505.2 L2013.7 2682.4" stroke="#C4C4C4" stroke-width="0.9"/><path d="M2013.7 2682.4 l0 3" stroke="#222" stroke-width="0.8"/><text x="2013.7" y="2698.2" font-size="10.2" text-anchor="middle" >3.0</text><path d="M2050.9 2505.2 L2050.9 2682.4" stroke="#C4C4C4" stroke-width="0.9"/><path d="M2050.9 2682.4 l0 3" stroke="#222" stroke-width="0.8"/><text x="2050.9" y="2698.2" font-size="10.2" text-anchor="middle" >3.5</text><path d="M2088.1 2505.2 L2088.1 2682.4" stroke="#C4C4C4" stroke-width="0.9"/><path d="M2088.1 2682.4 l0 3" stroke="#222" stroke-width="0.8"/><text x="2088.1" y="2698.2" font-size="10.2" text-anchor="middle" >4.0</text><path d="M1854.1 2674.3 L2099.6 2674.3" stroke="#C4C4C4" stroke-width="0.9"/><path d="M1854.1 2674.3 l-3 0" stroke="#222" stroke-width="0.8"/><text x="1848.6" y="2677.8" font-size="10.2" text-anchor="end" >1.13</text><path d="M1854.1 2630.8 L2099.6 2630.8" stroke="#C4C4C4" stroke-width="0.9"/><path d="M1854.1 2630.8 l-3 0" stroke="#222" stroke-width="0.8"/><text x="1848.6" y="2634.3" font-size="10.2" text-anchor="end" >1.14</text><path d="M1854.1 2587.2 L2099.6 2587.2" stroke="#C4C4C4" stroke-width="0.9"/><path d="M1854.1 2587.2 l-3 0" stroke="#222" stroke-width="0.8"/><text x="1848.6" y="2590.7" font-size="10.2" text-anchor="end" >1.15</text><path d="M1854.1 2544.0 L2099.6 2544.0" stroke="#C4C4C4" stroke-width="0.9"/><path d="M1854.1 2544.0 l-3 0" stroke="#222" stroke-width="0.8"/><text x="1848.6" y="2547.5" font-size="10.2" text-anchor="end" >1.16</text><path d="M1939.6 2596.3 L2088.1 2630.8" stroke="#5BA033" stroke-width="1.4" fill="none"/><path d="M1939.6 2591.7 L1944.2 2600.0 L1935.0 2600.0 Z" fill="#5BA033"/><path d="M2088.1 2626.2 L2092.7 2634.5 L2083.5 2634.5 Z" fill="#5BA033"/><circle cx="1865.3" cy="2513.5" r="4.2" fill="#4878B8"/><path d="M1865.3 2668.8 L1868.7 2674.3 L1865.3 2679.8 L1861.9 2674.3 Z" fill="#E5832A"/><path d="M1865.3 2609.2 L1869.7 2601.3 L1860.9 2601.3 Z" fill="#BE2D33"/><rect x="1854.1" y="2505.2" width="245.5" height="177.2" fill="none" stroke="#111" stroke-width="1.1"/><text x="1976.8" y="2712.8" font-size="12.4" text-anchor="middle" textLength="84.5" lengthAdjust="spacingAndGlyphs">Recurrent steps</text><text transform="translate(1821.1 2594.4) rotate(-90)" font-size="12.4" text-anchor="middle" textLength="62" lengthAdjust="spacingAndGlyphs">Valid (bpb)</text><rect x="1954.7" y="2511.4" width="138.6" height="75.2" rx="2.5" fill="#fff" fill-opacity="0.8" stroke="#D8D8D8" stroke-width="0.8"/><path d="M1959.2 2521.6 L1985.7 2521.6" stroke="#4878B8" stroke-width="1.3"/><circle cx="1972.2" cy="2521.6" r="4.6" fill="#4878B8"/><text x="1995.9" y="2525.7" font-size="12.4" text-anchor="start" textLength="51.1" lengthAdjust="spacingAndGlyphs">Trans-XL</text><path d="M1959.2 2539.6 L1985.7 2539.6" stroke="#E5832A" stroke-width="1.3"/><path d="M1972.2 2534.6 L1975.3 2539.6 L1972.2 2544.6 L1969.1 2539.6 Z" fill="#E5832A"/><text x="1995.9" y="2543.7" font-size="12.4" text-anchor="start" textLength="49" lengthAdjust="spacingAndGlyphs">Feedback</text><path d="M1959.2 2557.5 L1985.7 2557.5" stroke="#5BA033" stroke-width="1.3"/><path d="M1972.2 2552.3 L1977.4 2561.7 L1967.0 2561.7 Z" fill="#5BA033"/><text x="1995.9" y="2561.6" font-size="12.4" text-anchor="start" textLength="48.3" lengthAdjust="spacingAndGlyphs">Staircase</text><path d="M1959.2 2575.3 L1985.7 2575.3" stroke="#BE2D33" stroke-width="1.3"/><path d="M1972.2 2580.5 L1977.4 2571.1 L1967.0 2571.1 Z" fill="#BE2D33"/><text x="1995.9" y="2579.4" font-size="12.4" text-anchor="start" textLength="92" lengthAdjust="spacingAndGlyphs">Cached Staircase</text><rect x="2163.0" y="2505.2" width="245.5" height="177.2" fill="#fff"/><path d="M2206.0 2505.2 L2206.0 2682.4" stroke="#C4C4C4" stroke-width="0.9"/><path d="M2206.0 2682.4 l0 3" stroke="#222" stroke-width="0.8"/><text x="2206.0" y="2698.2" font-size="10.2" text-anchor="middle" >2</text><path d="M2269.8 2505.2 L2269.8 2682.4" stroke="#C4C4C4" stroke-width="0.9"/><path d="M2269.8 2682.4 l0 3" stroke="#222" stroke-width="0.8"/><text x="2269.8" y="2698.2" font-size="10.2" text-anchor="middle" >4</text><path d="M2333.3 2505.2 L2333.3 2682.4" stroke="#C4C4C4" stroke-width="0.9"/><path d="M2333.3 2682.4 l0 3" stroke="#222" stroke-width="0.8"/><text x="2333.3" y="2698.2" font-size="10.2" text-anchor="middle" >6</text><path d="M2397.1 2505.2 L2397.1 2682.4" stroke="#C4C4C4" stroke-width="0.9"/><path d="M2397.1 2682.4 l0 3" stroke="#222" stroke-width="0.8"/><text x="2397.1" y="2698.2" font-size="10.2" text-anchor="middle" >8</text><path d="M2163.0 2513.5 L2408.5 2513.5" stroke="#C4C4C4" stroke-width="0.9"/><path d="M2163.0 2513.5 l-3 0" stroke="#222" stroke-width="0.8"/><text x="2157.5" y="2517.0" font-size="10.2" text-anchor="end" >26.5</text><path d="M2163.0 2536.1 L2408.5 2536.1" stroke="#C4C4C4" stroke-width="0.9"/><path d="M2163.0 2536.1 l-3 0" stroke="#222" stroke-width="0.8"/><text x="2157.5" y="2539.6" font-size="10.2" text-anchor="end" >26.0</text><path d="M2163.0 2558.8 L2408.5 2558.8" stroke="#C4C4C4" stroke-width="0.9"/><path d="M2163.0 2558.8 l-3 0" stroke="#222" stroke-width="0.8"/><text x="2157.5" y="2562.3" font-size="10.2" text-anchor="end" >25.5</text><path d="M2163.0 2581.2 L2408.5 2581.2" stroke="#C4C4C4" stroke-width="0.9"/><path d="M2163.0 2581.2 l-3 0" stroke="#222" stroke-width="0.8"/><text x="2157.5" y="2584.7" font-size="10.2" text-anchor="end" >25.0</text><path d="M2163.0 2603.9 L2408.5 2603.9" stroke="#C4C4C4" stroke-width="0.9"/><path d="M2163.0 2603.9 l-3 0" stroke="#222" stroke-width="0.8"/><text x="2157.5" y="2607.4" font-size="10.2" text-anchor="end" >24.5</text><path d="M2163.0 2626.2 L2408.5 2626.2" stroke="#C4C4C4" stroke-width="0.9"/><path d="M2163.0 2626.2 l-3 0" stroke="#222" stroke-width="0.8"/><text x="2157.5" y="2629.7" font-size="10.2" text-anchor="end" >24.0</text><path d="M2163.0 2648.9 L2408.5 2648.9" stroke="#C4C4C4" stroke-width="0.9"/><path d="M2163.0 2648.9 l-3 0" stroke="#222" stroke-width="0.8"/><text x="2157.5" y="2652.4" font-size="10.2" text-anchor="end" >23.5</text><path d="M2163.0 2671.6 L2408.5 2671.6" stroke="#C4C4C4" stroke-width="0.9"/><path d="M2163.0 2671.6 l-3 0" stroke="#222" stroke-width="0.8"/><text x="2157.5" y="2675.1" font-size="10.2" text-anchor="end" >23.0</text><path d="M2206 2579.7 L2269.8 2641 L2397.1 2674.6" stroke="#5BA033" stroke-width="1.4" fill="none"/><path d="M2206.0 2575.1 L2210.6 2583.4 L2201.4 2583.4 Z" fill="#5BA033"/><path d="M2269.8 2636.4 L2274.4 2644.7 L2265.2 2644.7 Z" fill="#5BA033"/><path d="M2397.1 2670.0 L2401.7 2678.3 L2392.5 2678.3 Z" fill="#5BA033"/><circle cx="2173.9" cy="2513.5" r="4.2" fill="#4878B8"/><path d="M2173.9 2522.4 L2178.3 2514.5 L2169.5 2514.5 Z" fill="#BE2D33"/><path d="M2170.3 2543.7 L2177.5 2550.9 M2170.3 2550.9 L2177.5 2543.7" stroke="#E5832A" stroke-width="1.6" fill="none"/><rect x="2163.0" y="2505.2" width="245.5" height="177.2" fill="none" stroke="#111" stroke-width="1.1"/><text x="2285.8" y="2712.8" font-size="12.4" text-anchor="middle" textLength="84.5" lengthAdjust="spacingAndGlyphs">Recurrent steps</text><text transform="translate(2130.0 2594.4) rotate(-90)" font-size="12.4" text-anchor="middle" textLength="58.7" lengthAdjust="spacingAndGlyphs">Valid (ppl)</text><rect x="2263.7" y="2511.4" width="138.6" height="75.2" rx="2.5" fill="#fff" fill-opacity="0.8" stroke="#D8D8D8" stroke-width="0.8"/><path d="M2268.2 2521.6 L2294.7 2521.6" stroke="#4878B8" stroke-width="1.3"/><circle cx="2281.2" cy="2521.6" r="4.6" fill="#4878B8"/><text x="2304.9" y="2525.7" font-size="12.4" text-anchor="start" textLength="51.1" lengthAdjust="spacingAndGlyphs">Trans-XL</text><path d="M2268.2 2539.6 L2294.7 2539.6" stroke="#E5832A" stroke-width="1.3"/><path d="M2277.6 2536.0 L2284.8 2543.2 M2277.6 2543.2 L2284.8 2536.0" stroke="#E5832A" stroke-width="1.6" fill="none"/><text x="2304.9" y="2543.7" font-size="12.4" text-anchor="start" textLength="49" lengthAdjust="spacingAndGlyphs">Feedback</text><path d="M2268.2 2557.5 L2294.7 2557.5" stroke="#5BA033" stroke-width="1.3"/><path d="M2281.2 2552.3 L2286.4 2561.7 L2276.0 2561.7 Z" fill="#5BA033"/><text x="2304.9" y="2561.6" font-size="12.4" text-anchor="start" textLength="48.3" lengthAdjust="spacingAndGlyphs">Staircase</text><path d="M2268.2 2575.3 L2294.7 2575.3" stroke="#BE2D33" stroke-width="1.3"/><path d="M2281.2 2580.5 L2286.4 2571.1 L2276.0 2571.1 Z" fill="#BE2D33"/><text x="2304.9" y="2579.4" font-size="12.4" text-anchor="start" textLength="92" lengthAdjust="spacingAndGlyphs">Cached Staircase</text>
</svg>
<div class="t ssb or" style="left:1505.0px;top:107.3px;font-size:81.5px;word-spacing:15.28px;transform:scaleX(1.0027)">Staircase Attention</div>
<div class="t ssb or" style="left:1126.0px;top:212.2px;font-size:81.5px;word-spacing:15.28px;transform:scaleX(0.9517)">for Recurrent Processing of Sequences</div>
<div class="t cs" style="left:1290.8px;top:324.3px;font-size:48.5px;word-spacing:6.22px;transform:scaleX(0.8704)">Da JU, Stephen Roller, Sainbayar Sukhbaatar, Jason Weston</div>
<div class="t cs" style="left:1725.4px;top:403.6px;font-size:40.6px;word-spacing:5.21px;transform:scaleX(0.9011)">Meta AI, New York</div>
<div class="t sb wh" style="left:555.4px;top:602.9px;font-size:49.0px;transform:scaleX(1.2627)">Abstract</div>
<div class="t sr pk" style="left:277.4px;top:689.9px;font-size:33.5px;word-spacing:2.13px;transform:scaleX(1.0130)">Attention mechanisms have become a standard tool for</div>
<div class="t sr pk" style="left:279.4px;top:731.4px;font-size:33.5px;word-spacing:1.32px;transform:scaleX(1.0130)">sequence modeling tasks, in particular by stacking self-</div>
<div class="t sr pk" style="left:279.4px;top:772.9px;font-size:33.5px;word-spacing:1.76px;transform:scaleX(1.0130)">attention layers over the entire input sequence as in the</div>
<div class="t sr pk" style="left:280.4px;top:814.4px;font-size:33.5px;word-spacing:6.94px;transform:scaleX(1.0130)">Transformer architecture.&nbsp; In this work we introduce</div>
<div class="t sr pk" style="left:279.4px;top:855.9px;font-size:33.5px;word-spacing:8.24px;transform:scaleX(1.0130)">a novel attention procedure called staircase attention</div>
<div class="t sr pk" style="left:279.4px;top:897.4px;font-size:33.5px;word-spacing:2.48px;transform:scaleX(1.0130)">that, unlike self-attention, operates across the sequence</div>
<div class="t sr pk" style="left:279.4px;top:938.9px;font-size:33.5px;word-spacing:1.16px;transform:scaleX(1.0130)">(in time) recurrently processing the input by adding an-</div>
<div class="t sr pk" style="left:279.4px;top:980.4px;font-size:33.5px;word-spacing:3.99px;transform:scaleX(1.0130)">other step of processing.&nbsp; A step in the staircase com-</div>
<div class="t sr pk" style="left:279.4px;top:1021.9px;font-size:33.5px;word-spacing:-0.59px;transform:scaleX(1.0130)">prises of backward tokens (encoding the sequence so far</div>
<div class="t sr pk" style="left:279.4px;top:1063.4px;font-size:33.5px;word-spacing:4.24px;transform:scaleX(1.0130)">seen) and forward tokens (ingesting a new part of the</div>
<div class="t sr pk" style="left:279.4px;top:1104.9px;font-size:33.5px;word-spacing:3.30px;transform:scaleX(1.0130)">sequence).&nbsp; Thus our model can trade off performance</div>
<div class="t sr pk" style="left:279.4px;top:1146.4px;font-size:33.5px;word-spacing:5.59px;transform:scaleX(1.0130)">and compute, by increasing the amount of recurrence</div>
<div class="t sr pk" style="left:279.4px;top:1187.9px;font-size:33.5px;word-spacing:5.34px;transform:scaleX(1.0130)">through time and depth.&nbsp; Staircase attention is shown</div>
<div class="t sr pk" style="left:279.4px;top:1229.4px;font-size:33.5px;word-spacing:2.04px;transform:scaleX(1.0130)">to be able to solve tasks that involve tracking that con-</div>
<div class="t sr pk" style="left:280.4px;top:1270.9px;font-size:33.5px;word-spacing:4.64px;transform:scaleX(1.0130)">ventional Transformers cannot, due to this recurrence.</div>
<div class="t sr pk" style="left:279.4px;top:1312.4px;font-size:33.5px;word-spacing:-2.19px;transform:scaleX(1.0130)">Further, it is shown to provide improved modeling power</div>
<div class="t sr pk" style="left:279.4px;top:1353.9px;font-size:33.5px;word-spacing:3.96px;transform:scaleX(1.0130)">for the same size model (number of parameters) com-</div>
<div class="t sr pk" style="left:279.4px;top:1395.4px;font-size:33.5px;word-spacing:4.44px;transform:scaleX(1.0130)">pared to self-attentive Transformers on large language</div>
<div class="t sr pk" style="left:279.4px;top:1436.9px;font-size:33.5px;word-spacing:5.21px;transform:scaleX(1.0130)">modeling and dialogue tasks, yielding significant per-</div>
<div class="t sr pk" style="left:279.4px;top:1478.4px;font-size:33.5px;word-spacing:2.65px;transform:scaleX(1.0005)">plexity gains.</div>
<div class="t sb cr" style="left:515.6px;top:1628.0px;font-size:49.0px;transform:scaleX(1.2220)">Motivations</div>
<div class="t sr" style="left:255.8px;top:1727.2px;font-size:47.3px;word-spacing:0.06px;transform:scaleX(1.0130)">Historical </div>
<div class="t sb cr" style="left:456.8px;top:1725.8px;font-size:49.0px;word-spacing:-0.44px;transform:scaleX(1.2180)">recurrent</div>
<div class="t sr" style="left:672.1px;top:1727.2px;font-size:47.3px;word-spacing:0.06px;transform:scaleX(1.0130)"> models have shown</div>
<div class="t sb cr" style="left:256.8px;top:1787.7px;font-size:49.0px;word-spacing:5.86px;transform:scaleX(1.2180)">advantages</div>
<div class="t sr" style="left:521.9px;top:1789.1px;font-size:47.3px;word-spacing:7.64px;transform:scaleX(1.0130)"> such as tracking state and</div>
<div class="t sr" style="left:256.8px;top:1850.9px;font-size:47.3px;word-spacing:0.02px;transform:scaleX(1.0130)">potentially solve highly nonlinear sequen-</div>
<div class="t sr" style="left:256.8px;top:1913.2px;font-size:47.3px;word-spacing:3.74px;transform:scaleX(1.0466)">tial tasks.</div>
<div class="t sr pk" style="left:279.8px;top:2036.1px;font-size:47.3px;word-spacing:31.79px;transform:scaleX(1.0130)">These attributes diminish in non-</div>
<div class="t sr pk" style="left:279.4px;top:2098.3px;font-size:47.3px;word-spacing:28.36px;transform:scaleX(1.0130)">recurrent attention-based Transform-</div>
<div class="t sr pk" style="left:278.2px;top:2160.2px;font-size:47.3px;transform:scaleX(1.0562)">ers.</div>
<div class="t sb cr" style="left:256.0px;top:2254.5px;font-size:49.0px;transform:scaleX(1.2021)">Goal</div>
<div class="t sr" style="left:370.5px;top:2255.9px;font-size:47.3px;word-spacing:3.74px;transform:scaleX(0.9998)"> of our work:</div>
<div class="t sr" style="left:316.2px;top:2322.8px;font-size:47.3px;word-spacing:3.74px;transform:scaleX(1.0253)">Add recurrence techniques to</div>
<div class="t sr" style="left:318.2px;top:2385.6px;font-size:47.3px;transform:scaleX(1.0285)">Transformers.</div>
<div class="t sr" style="left:317.2px;top:2450.1px;font-size:47.3px;word-spacing:3.74px;transform:scaleX(1.0061)">Improve the modeling power of a</div>
<div class="t sr" style="left:318.2px;top:2513.3px;font-size:47.3px;word-spacing:3.74px;transform:scaleX(1.0187)">neural network with a given number</div>
<div class="t sr" style="left:317.2px;top:2575.3px;font-size:47.3px;word-spacing:3.74px;transform:scaleX(1.0337)">of parameters.</div>
<div class="t sb cr" style="left:1548.0px;top:587.5px;font-size:49.0px;word-spacing:2.61px;transform:scaleX(1.2617)">Staircase Attention</div>
<div class="t sr" style="left:1251.2px;top:690.2px;font-size:47.3px;word-spacing:3.74px;transform:scaleX(1.0117)">The building block of our models is a Transformer core.</div>
<div class="t sr" style="left:1250.2px;top:755.9px;font-size:47.3px;word-spacing:3.74px;transform:scaleX(1.0202)">In the Staircase model, each step sees one new input</div>
<div class="t sr" style="left:1250.2px;top:818.0px;font-size:47.3px;word-spacing:3.74px;transform:scaleX(1.0257)">chunk and performs &lsquo;recurrent computation&rsquo; on a fixed</div>
<div class="t sr" style="left:1251.2px;top:880.4px;font-size:47.3px;word-spacing:3.74px;transform:scaleX(1.0126)">number of previous chunks.</div>
<div class="t sr" style="left:1250.2px;top:946.1px;font-size:47.3px;word-spacing:3.74px;transform:scaleX(1.0361)">Output chunk is taken when the required &lsquo;recurrent</div>
<div class="t sr" style="left:1250.2px;top:1008.3px;font-size:47.3px;word-spacing:3.74px;transform:scaleX(1.0456)">computation&rsquo; is met.</div>
<div class="t ss" style="left:1383.8px;top:1075.3px;font-size:29.5px;transform:scaleX(0.9575)">transformer core</div>
<div class="t ss" style="left:1686.4px;top:1075.3px;font-size:29.5px;transform:scaleX(0.9778)">indentity</div>
<div class="t ss" style="left:1891.0px;top:1075.3px;font-size:29.5px;transform:scaleX(0.9774)">input layer</div>
<div class="t ss" style="left:2122.2px;top:1075.3px;font-size:29.5px;transform:scaleX(0.9653)">output layer</div>
<div class="t ss" style="left:1378.2px;top:1120.5px;font-size:25.5px;transform:scaleX(0.9756)">time</div>
<div class="t ss" style="left:1191.2px;top:1235.3px;font-size:25.5px;transform:scaleX(0.9721)"><i>L</i> layers</div>
<div class="t ss" style="left:1348.2px;top:1366.3px;font-size:25.5px;transform:scaleX(0.9742)"><i>C</i> tokens</div>
<div class="t ss" style="left:1668.8px;top:1380.1px;font-size:25.5px;transform:scaleX(0.9689)"><i>N</i> chunks</div>
<div class="t ss" style="left:1222.4px;top:1434.7px;font-size:30.5px;transform:scaleX(1.0391)">(a) Transformer core</div>
<div class="t ss" style="left:1703.8px;top:1434.7px;font-size:30.5px;transform:scaleX(1.0368)">(b) Staircase</div>
<div class="t ss" style="left:2050.2px;top:1434.7px;font-size:30.5px;transform:scaleX(1.0388)">(c) Cached Staircase</div>
<div class="t sb cr" style="left:1630.8px;top:1535.8px;font-size:49.0px;transform:scaleX(1.2405)">Experiments</div>
<div class="t sb" style="left:1465.2px;top:1654.4px;font-size:34.71px;word-spacing:1.85px;transform:scaleX(1.2093)">Results summary across all our tasks.</div>
<div class="t sr" style="left:1522.4px;top:1696.8px;font-size:35.2px;word-spacing:2.78px;transform:scaleX(0.9737)">Random Walk</div>
<div class="t sr" style="left:1735.0px;top:1696.8px;font-size:35.2px;transform:scaleX(0.9577)">Algorithm</div>
<div class="t sr" style="left:1905.2px;top:1696.8px;font-size:35.2px;transform:scaleX(0.9413)">Enwik8</div>
<div class="t sr" style="left:2055.6px;top:1696.8px;font-size:35.2px;transform:scaleX(0.9935)">Reddit</div>
<div class="t sr" style="left:2180.4px;top:1696.8px;font-size:35.2px;word-spacing:2.78px;transform:scaleX(0.9777)">BASE Data</div>
<div class="t sr" style="left:1204.0px;top:1737.7px;font-size:35.2px;transform:scaleX(0.9595)">Model</div>
<div class="t sr" style="left:1558.6px;top:1737.7px;font-size:35.2px;word-spacing:2.78px;transform:scaleX(0.9559)">(error %)</div>
<div class="t sr" style="left:1742.0px;top:1737.7px;font-size:35.2px;word-spacing:2.78px;transform:scaleX(0.9497)">(error %)</div>
<div class="t sr" style="left:1888.8px;top:1737.7px;font-size:35.2px;word-spacing:2.78px;transform:scaleX(1.0012)">(test bpc)</div>
<div class="t sr" style="left:2038.0px;top:1737.7px;font-size:35.2px;word-spacing:2.78px;transform:scaleX(1.0016)">(test ppl)</div>
<div class="t sr" style="left:2190.0px;top:1737.7px;font-size:35.2px;word-spacing:2.78px;transform:scaleX(0.9554)">(valid ppl)</div>
<div class="t sr" style="left:1204.0px;top:1785.1px;font-size:35.2px;transform:scaleX(0.9572)">LSTM</div>
<div class="t sr" style="left:1608.8px;top:1785.1px;font-size:35.2px;transform:scaleX(0.9396)">0.6</div>
<div class="t sr" style="left:1790.9px;top:1785.1px;font-size:35.2px;transform:scaleX(0.9832)">1.0</div>
<div class="t sr" style="left:1926.4px;top:1785.1px;font-size:35.2px;transform:scaleX(0.9493)">1.38</div>
<div class="t sr" style="left:2095.6px;top:1785.1px;font-size:35.2px;transform:scaleX(1.0313)">-</div>
<div class="t sr" style="left:2255.2px;top:1785.1px;font-size:35.2px;transform:scaleX(1.0313)">-</div>
<div class="t sr" style="left:1205.0px;top:1827.2px;font-size:35.2px;transform:scaleX(0.9547)">Transformer-XL</div>
<div class="t sr" style="left:1592.9px;top:1827.2px;font-size:35.2px;transform:scaleX(0.9311)">84.1</div>
<div class="t sr" style="left:1777.4px;top:1827.2px;font-size:35.2px;transform:scaleX(0.8966)">48.7</div>
<div class="t sr" style="left:1926.4px;top:1827.2px;font-size:35.2px;transform:scaleX(0.9493)">1.15</div>
<div class="t sr" style="left:2073.6px;top:1827.2px;font-size:35.2px;transform:scaleX(0.9310)">26.2</div>
<div class="t sr" style="left:2233.8px;top:1827.2px;font-size:35.2px;transform:scaleX(0.9202)">28.0</div>
<div class="t sr" style="left:1204.0px;top:1868.8px;font-size:35.2px;word-spacing:2.78px;transform:scaleX(0.9501)">Feedback Transformer</div>
<div class="t sb" style="left:1606.2px;top:1867.8px;font-size:36.47px;transform:scaleX(1.0906)">0.1</div>
<div class="t sb" style="left:1789.2px;top:1867.8px;font-size:36.47px;transform:scaleX(1.1217)">0.2</div>
<div class="t sb" style="left:1919.8px;top:1867.8px;font-size:36.47px;transform:scaleX(1.1163)">1.12</div>
<div class="t sr" style="left:2073.5px;top:1868.8px;font-size:35.2px;transform:scaleX(0.9304)">25.5</div>
<div class="t sr" style="left:2233.8px;top:1868.8px;font-size:35.2px;transform:scaleX(0.9202)">26.6</div>
<div class="t sb lb" style="left:1203.0px;top:1957.2px;font-size:36.47px;transform:scaleX(1.1552)">Staircase</div>
<div class="t sb" style="left:1606.2px;top:1957.2px;font-size:36.47px;transform:scaleX(1.0906)">0.1</div>
<div class="t sb" style="left:1789.2px;top:1957.2px;font-size:36.47px;transform:scaleX(1.1217)">0.2</div>
<div class="t sr" style="left:1926.4px;top:1958.2px;font-size:35.2px;transform:scaleX(0.9483)">1.14</div>
<div class="t sb" style="left:2068.0px;top:1957.2px;font-size:36.47px;transform:scaleX(1.0660)">22.6</div>
<div class="t sb" style="left:2228.0px;top:1957.2px;font-size:36.47px;transform:scaleX(1.0820)">23.0</div>
<div class="t sb lb" style="left:1204.0px;top:1998.2px;font-size:36.47px;word-spacing:1.95px;transform:scaleX(1.1435)">Cached Staircase</div>
<div class="t sb" style="left:1606.2px;top:1998.2px;font-size:36.47px;transform:scaleX(1.0906)">0.1</div>
<div class="t sr" style="left:1790.8px;top:1999.2px;font-size:35.2px;transform:scaleX(0.9760)">1.2</div>
<div class="t sr" style="left:1926.4px;top:1999.2px;font-size:35.2px;transform:scaleX(0.9493)">1.13</div>
<div class="t sr" style="left:2073.6px;top:1999.2px;font-size:35.2px;transform:scaleX(0.9310)">26.1</div>
<div class="t sr" style="left:2233.8px;top:1999.2px;font-size:35.2px;transform:scaleX(0.9202)">27.8</div>
<div class="t si" style="left:1205.0px;top:1916.7px;font-size:35.2px;word-spacing:2.11px;transform:scaleX(1.0105)">Our models</div>
<div class="t sr" style="left:1249.2px;top:2085.6px;font-size:47.3px;word-spacing:3.74px;transform:scaleX(1.0280)">Staircase models have strong performance on state</div>
<div class="t sr" style="left:1251.2px;top:2148.1px;font-size:47.3px;word-spacing:3.74px;transform:scaleX(1.0402)">tracking tasks.</div>
<div class="t sr" style="left:1249.2px;top:2213.8px;font-size:47.3px;word-spacing:3.74px;transform:scaleX(1.0286)">Staircase models outperform Transformers for the same</div>
<div class="t sr" style="left:1251.2px;top:2276.0px;font-size:47.3px;word-spacing:3.74px;transform:scaleX(1.0247)">number of parameters on language modeling tasks.</div>
<div class="t sr" style="left:1249.2px;top:2341.9px;font-size:47.3px;word-spacing:3.74px;transform:scaleX(1.0152)">Staircase model&rsquo;s forward size and step size control its</div>
<div class="t sr" style="left:1251.2px;top:2404.3px;font-size:47.3px;transform:scaleX(1.0275)">performance.</div>
<div class="t sr" style="left:1255.8px;top:2458.7px;font-size:26.6px;word-spacing:2.10px;transform:scaleX(1.0778)">Random Walk</div>
<div class="t sr" style="left:1581.7px;top:2458.7px;font-size:26.6px;transform:scaleX(1.0734)">Algorithm</div>
<div class="t sr" style="left:1909.4px;top:2458.7px;font-size:26.6px;transform:scaleX(1.0450)">Enwik8</div>
<div class="t sr" style="left:2152.2px;top:2458.7px;font-size:26.6px;word-spacing:2.10px;transform:scaleX(1.0737)">Pushshift.io Reddit</div>
<div class="t sb cr" style="left:2507.0px;top:587.3px;font-size:49.0px;word-spacing:2.61px;transform:scaleX(1.2229)">Training time vs performance trade-off</div>
<div class="t sr" style="left:2505.0px;top:1450.7px;font-size:39.0px;word-spacing:3.08px;transform:scaleX(1.0216)">The Staircase models can improve performance for longer</div>
<div class="t sr" style="left:2505.0px;top:1501.8px;font-size:39.0px;word-spacing:3.08px;transform:scaleX(1.0399)">training time without increasing the model size.</div>
<div class="t sb cr" style="left:2847.2px;top:1596.5px;font-size:49.0px;transform:scaleX(1.1899)">Conclusion</div>
<div class="t sr" style="left:2565.6px;top:1699.6px;font-size:47.3px;word-spacing:3.74px;transform:scaleX(1.0269)">Re-introduce recurrence back into</div>
<div class="t sr" style="left:2566.6px;top:1761.9px;font-size:47.3px;word-spacing:3.74px;transform:scaleX(1.0224)">Transformer-based models </div>
<div class="t sb lb" style="left:3103.3px;top:1760.5px;font-size:49.0px;word-spacing:2.61px;transform:scaleX(1.2293)">across both</div>
<div class="t sb lb" style="left:2567.6px;top:1822.6px;font-size:49.0px;word-spacing:2.61px;transform:scaleX(1.2611)">time and depth</div>
<div class="t sr" style="left:2941.4px;top:1824.0px;font-size:47.3px;transform:scaleX(1.0488)">.</div>
<div class="t sr" style="left:2562.8px;top:1889.8px;font-size:47.3px;word-spacing:3.74px;transform:scaleX(1.0307)">Staircase model can solve state tracking</div>
<div class="t sr" style="left:2564.8px;top:1952.4px;font-size:47.3px;word-spacing:3.74px;transform:scaleX(1.0391)">tasks that conventional Transformers cannot</div>
<div class="t sr" style="left:2565.8px;top:2015.1px;font-size:47.3px;word-spacing:3.74px;transform:scaleX(1.0334)">via its </div>
<div class="t sb lb" style="left:2703.9px;top:2013.7px;font-size:49.0px;word-spacing:2.61px;transform:scaleX(1.2425)">recurrence in time</div>
<div class="t sr" style="left:2563.8px;top:2079.9px;font-size:47.3px;word-spacing:3.74px;transform:scaleX(1.0021)">It also delivers </div>
<div class="t sb lb" style="left:2865.9px;top:2078.5px;font-size:49.0px;word-spacing:2.61px;transform:scaleX(1.2049)">more modeling power</div>
<div class="t sb lb" style="left:2564.8px;top:2141.0px;font-size:49.0px;word-spacing:2.61px;transform:scaleX(1.2598)">per parameter</div>
<div class="t sr" style="left:2909.1px;top:2142.4px;font-size:47.3px;word-spacing:3.74px;transform:scaleX(1.0478)"> than conventional</div>
<div class="t sr" style="left:2564.8px;top:2204.2px;font-size:47.3px;word-spacing:3.74px;transform:scaleX(1.0298)">Transformers via its </div>
<div class="t sb lb" style="left:2979.1px;top:2202.8px;font-size:49.0px;word-spacing:2.61px;transform:scaleX(1.2382)">recurrence in depth</div>
<div class="t sb cr" style="left:2626.8px;top:2310.1px;font-size:49.0px;word-spacing:2.61px;transform:scaleX(1.2486)">Limitations and Future steps</div>
<div class="t sr" style="left:2563.8px;top:2414.1px;font-size:47.3px;word-spacing:3.74px;transform:scaleX(1.0268)">Investigate how recurrence can be built into</div>
<div class="t sr" style="left:2563.8px;top:2476.6px;font-size:47.3px;word-spacing:3.74px;transform:scaleX(1.0114)">sequence models</div>
<div class="t sr" style="left:2562.8px;top:2541.9px;font-size:47.3px;word-spacing:3.74px;transform:scaleX(1.0230)">Systems will always be limited to short-term</div>
<div class="t sr" style="left:2564.8px;top:2604.3px;font-size:47.3px;word-spacing:3.74px;transform:scaleX(1.0399)">reactive tasks and input without memory</div>
<div class="t sr" style="left:2563.8px;top:2666.2px;font-size:47.3px;transform:scaleX(1.0364)">component</div>
<div class="t ss meta" style="left:2973.3px;top:173.1px;font-size:144.0px;transform:scaleX(1.1073)">Meta</div>
<div class="t ss meta" style="left:3360.0px;top:173.1px;font-size:144.0px;transform:scaleX(1.0613)">AI</div>
</body></html>
